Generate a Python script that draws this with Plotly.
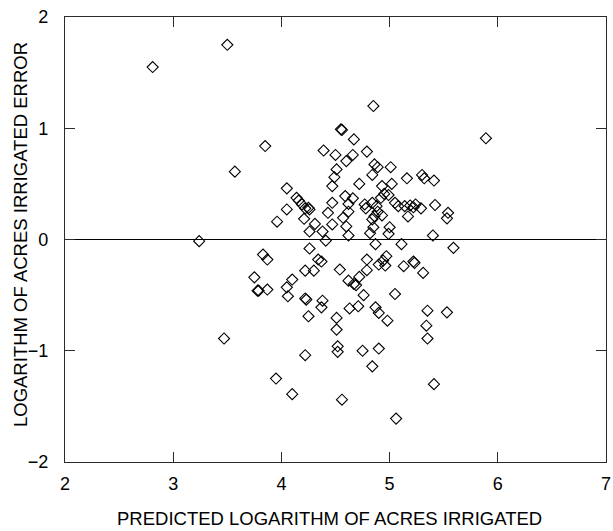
import plotly.graph_objects as go

# Predicted log acres irrigated (x) and log error (y) per site
predicted = [
    2.81, 3.50, 5.89, 3.85, 3.57, 3.96, 3.24, 3.83, 3.87, 3.75, 3.78, 3.79, 3.87, 3.47, 3.95,
    5.41, 5.42, 5.54, 5.53, 5.40, 5.59, 5.53, 5.41,
    4.26, 4.38, 4.62, 4.82, 4.99, 4.41, 4.87, 5.11, 4.26, 4.34, 4.37, 4.79, 4.97, 4.94,
    4.90, 4.96, 5.22, 5.23, 5.13, 4.22, 4.30, 4.54, 4.79, 5.31, 4.72, 4.10, 4.62, 4.67,
    4.69, 4.05, 4.06, 4.22, 4.23, 4.76, 5.05, 4.38, 4.37, 4.63, 4.71, 4.87, 4.90, 4.98,
    5.35, 5.34, 5.35, 4.25, 4.51, 4.51, 4.52, 4.52, 4.22, 4.75, 4.90, 4.84, 4.10, 4.56, 5.06,
    4.85, 4.55, 4.56, 4.67, 4.39, 4.50, 4.66, 4.60, 4.79, 4.86, 4.89, 5.01, 4.84, 4.51,
    4.49, 4.47, 4.72, 5.16, 5.30, 5.32, 4.05, 4.93, 5.02, 4.95, 4.99, 4.92, 4.14, 4.16,
    4.19, 4.25, 4.26, 4.22, 4.05, 4.59, 4.66, 4.47, 4.62, 4.43, 4.62, 4.77, 4.78, 4.84,
    4.88, 4.89, 4.86, 4.93, 4.84, 5.05, 5.08, 5.14, 5.19, 5.22, 5.24, 5.29, 5.17, 4.21,
    4.31, 4.47, 4.57, 4.60, 4.85, 5.00,
]
log_error = [
    1.55, 1.75, 0.91, 0.84, 0.61, 0.16, -0.015, -0.135, -0.18, -0.34, -0.46, -0.46, -0.45, -0.89, -1.25,
    0.53, 0.31, 0.24, 0.19, 0.036, -0.075, -0.655, -1.30,
    0.072, 0.072, 0.036, 0.057, 0.051, -0.01, -0.042, -0.042, -0.081, -0.18, -0.198, -0.18, -0.15, -0.19,
    -0.225, -0.234, -0.198, -0.21, -0.24, -0.28, -0.28, -0.27, -0.276, -0.30, -0.336, -0.36, -0.37, -0.40,
    -0.41, -0.43, -0.51, -0.53, -0.54, -0.50, -0.49, -0.55, -0.61, -0.62, -0.60, -0.61, -0.66, -0.73,
    -0.64, -0.775, -0.89, -0.69, -0.705, -0.81, -0.96, -1.01, -1.04, -1.00, -0.98, -1.14, -1.39, -1.44, -1.61,
    1.20, 0.99, 0.985, 0.90, 0.80, 0.76, 0.76, 0.705, 0.79, 0.675, 0.65, 0.65, 0.58, 0.63,
    0.56, 0.48, 0.50, 0.55, 0.58, 0.55, 0.46, 0.48, 0.50, 0.41, 0.40, 0.375, 0.375, 0.35,
    0.315, 0.285, 0.27, 0.28, 0.27, 0.39, 0.37, 0.33, 0.32, 0.24, 0.25, 0.315, 0.28, 0.33,
    0.30, 0.25, 0.21, 0.216, 0.18, 0.33, 0.30, 0.30, 0.306, 0.29, 0.315, 0.28, 0.207, 0.186,
    0.14, 0.135, 0.195, 0.117, 0.11, 0.11,
]

x_ticks = [2, 3, 4, 5, 6, 7]
y_ticks = [-2, -1, 0, 1, 2]

x_title = "PREDICTED LOGARITHM OF ACRES IRRIGATED"
y_title = "LOGARITHM OF ACRES IRRIGATED ERROR"

FONT = "Liberation Sans, Arial, Helvetica, sans-serif"
AXIS_COLOR = "#2a2a2a"

fig = go.Figure(
    go.Scatter(
        x=predicted,
        y=log_error,
        mode="markers",
        marker=dict(
            symbol="diamond-open",
            size=8.5,
            color="black",
            line=dict(color="black", width=1.1),
        ),
        hoverinfo="x+y",
    )
)

common_axis = dict(
    showline=True,
    linecolor=AXIS_COLOR,
    linewidth=1.4,
    mirror="ticks",
    ticks="inside",
    ticklen=10,
    tickwidth=1.2,
    tickcolor=AXIS_COLOR,
    showgrid=False,
    ticklabeloverflow="allow",
    tickfont=dict(family=FONT, size=18, color="black"),
)

fig.update_layout(
    width=613,
    height=531,
    margin=dict(l=65, r=2, t=17, b=69),
    paper_bgcolor="white",
    plot_bgcolor="white",
    showlegend=False,
    font=dict(family=FONT, color="black"),
    xaxis=dict(
        common_axis,
        range=[2, 7],
        tickvals=x_ticks,
        ticktext=[str(v) for v in x_ticks],
        zeroline=False,
        ticklabelstandoff=5,
    ),
    yaxis=dict(
        common_axis,
        range=[-2, 2],
        tickvals=y_ticks,
        ticktext=[str(v).replace("-", "\u2212") for v in y_ticks],
        zeroline=True,
        zerolinecolor="black",
        zerolinewidth=1.4,
        ticklabelstandoff=12,
    ),
    annotations=[
        dict(
            text=x_title,
            xref="paper", yref="paper",
            x=0.489, y=0,
            xanchor="center", yanchor="middle",
            yshift=-56,
            showarrow=False,
            font=dict(family=FONT, size=18.5, color="black"),
        ),
        dict(
            text=y_title,
            xref="paper", yref="paper",
            x=0, y=0.51,
            xanchor="center", yanchor="middle",
            xshift=-45,
            textangle=-90,
            showarrow=False,
            font=dict(family=FONT, size=18.5, color="black"),
        ),
    ],
)

fig.write_html("out.html")
